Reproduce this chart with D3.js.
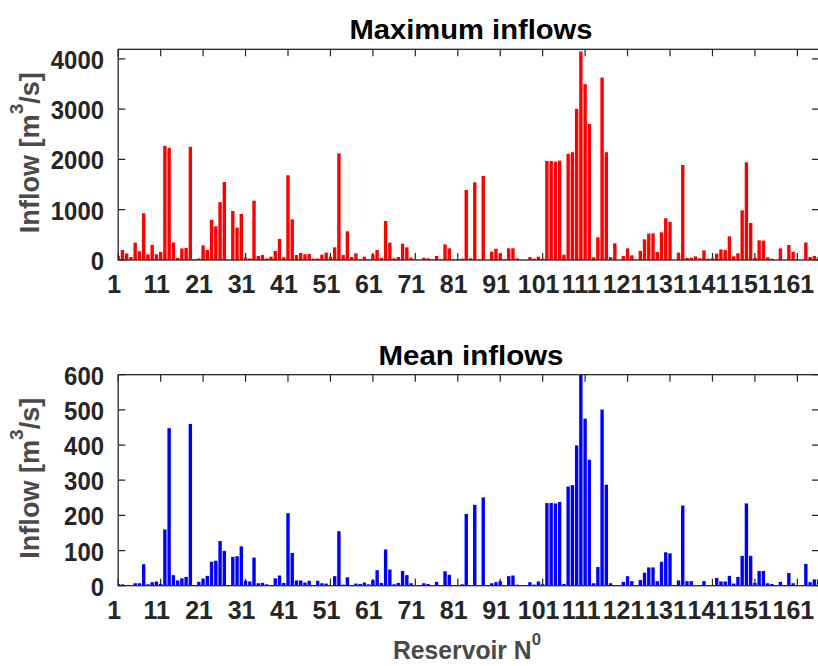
<!DOCTYPE html>
<html>
<head>
<meta charset="utf-8">
<script src="https://cdn.jsdelivr.net/npm/d3@7/dist/d3.min.js"></script>
<style>
  body { margin: 0; background: #fff; }
  svg { display: block; font-family: "Liberation Sans", Arial, sans-serif; font-weight: bold; }
</style>
</head>
<body>
<script>
// reservoir numbers and tick labels
var reservoirs = d3.range(1, 167);
var xTicks = [1, 11, 21, 31, 41, 51, 61, 71, 81, 91, 101, 111, 121, 131, 141, 151, 161];

// maximum inflows [m3/s]
var maxInflow = [80, 200, 130, 60, 345, 172, 930, 113, 300, 113,
    160, 2270, 2230, 350, 40, 230, 240, 2250, 15, 30,
    290, 200, 800, 670, 1150, 1550, 5, 975, 645, 915,
    50, 30, 1180, 80, 100, 30, 66, 180, 420, 53,
    1685, 810, 100, 140, 113, 120, 27, 30, 106, 146,
    66, 252, 2120, 100, 570, 60, 133, 13, 66, 13,
    113, 200, 40, 775, 345, 33, 60, 325, 252, 46,
    13, 0, 46, 33, 13, 80, 13, 310, 232, 13,
    13, 27, 1393, 33, 1545, 13, 1670, 0, 166, 225,
    133, 13, 232, 232, 33, 0, 5, 60, 27, 66,
    27, 1970, 1970, 1957, 1977, 106, 2110, 2143, 3005, 4146,
    3496, 2706, 53, 451, 3628, 2143, 60, 332, 0, 80,
    232, 93, 0, 180, 411, 524, 530, 160, 550, 830,
    756, 0, 146, 1890, 40, 46, 73, 33, 192, 27,
    33, 126, 212, 200, 471, 73, 133, 988, 1943, 736,
    40, 391, 385, 53, 27, 0, 232, 0, 298, 160,
    10, 0, 350, 60, 80, 60];

// mean inflows [m3/s]
var meanInflow = [5, 4, 2, 0, 7, 7, 61, 4, 10, 12,
    5, 160, 448, 30, 15, 21, 25, 460, 0, 11,
    20, 28, 68, 71, 127, 99, 0, 82, 84, 112,
    14, 12, 80, 7, 8, 4, 2, 21, 29, 8,
    206, 93, 15, 15, 9, 14, 0, 14, 7, 6,
    0, 27, 155, 3, 24, 2, 6, 5, 9, 4,
    16, 44, 8, 103, 46, 4, 8, 42, 30, 7,
    0, 0, 7, 5, 0, 11, 0, 41, 31, 0,
    0, 4, 204, 0, 230, 0, 251, 0, 7, 10,
    13, 0, 27, 29, 3, 0, 0, 10, 3, 12,
    4, 235, 235, 234, 238, 5, 282, 286, 399, 600,
    475, 358, 7, 53, 501, 287, 7, 2, 0, 11,
    27, 13, 0, 16, 37, 52, 52, 13, 68, 95,
    92, 0, 15, 228, 13, 13, 0, 0, 13, 0,
    2, 22, 12, 12, 28, 6, 25, 85, 234, 85,
    8, 42, 42, 7, 5, 0, 11, 0, 36, 7,
    0, 0, 62, 10, 18, 18];

var maxTicks = [0, 1000, 2000, 3000, 4000];
var meanTicks = [0, 100, 200, 300, 400, 500, 600];

var axisColor = "#262626";

var svg = d3.select("body").append("svg")
    .attr("width", 818)
    .attr("height", 666);

var x = d3.scaleLinear().domain([1, 166.1]).range([118.2, 819]);
var barW = 0.8 * (x(2) - x(1));

function panel(opt) {
    var y = d3.scaleLinear().domain(opt.domain).range([opt.bottom, opt.top]);
    var left = x.range()[0], right = x.range()[1];
    var g = svg.append("g");

    g.append("clipPath").attr("id", opt.id)
        .append("rect")
        .attr("x", left).attr("y", opt.top)
        .attr("width", right - left).attr("height", opt.bottom - opt.top);

    // inward ticks
    var tl = 7;
    g.selectAll(".xt").data(xTicks).enter().append("path")
        .attr("d", function (d) {
            return "M" + x(d) + "," + opt.bottom + "v" + (-tl) +
                "M" + x(d) + "," + opt.top + "v" + tl;
        })
        .attr("stroke", axisColor).attr("stroke-width", 1.2);
    g.selectAll(".yt").data(opt.ticks).enter().append("path")
        .attr("d", function (d) {
            return "M" + left + "," + y(d) + "h" + tl +
                "M" + right + "," + y(d) + "h" + (-tl);
        })
        .attr("stroke", axisColor).attr("stroke-width", 1.2);

    g.append("g").attr("clip-path", "url(#" + opt.id + ")")
        .selectAll("rect").data(opt.values).enter().append("rect")
        .attr("x", function (d, i) { return x(reservoirs[i]) - barW / 2; })
        .attr("width", barW)
        .attr("y", function (d) { return y(d); })
        .attr("height", function (d) { return opt.bottom - y(d); })
        .attr("fill", opt.color);

    g.append("rect")
        .attr("x", left).attr("y", opt.top)
        .attr("width", right - left).attr("height", opt.bottom - opt.top)
        .attr("fill", "none").attr("stroke", axisColor).attr("stroke-width", 1.3);

    // tick labels
    g.selectAll(".yl").data(opt.ticks).enter().append("text")
        .attr("x", 104).attr("y", function (d) { return y(d) + 10; })
        .attr("text-anchor", "end")
        .attr("font-size", 25).attr("fill", axisColor)
        .attr("textLength", function (d) { return String(d).length * 13.3; })
        .attr("lengthAdjust", "spacingAndGlyphs")
        .text(function (d) { return d; });
    g.selectAll(".xl").data(xTicks).enter().append("text")
        .attr("x", function (d) { return x(d) - 4; })
        .attr("y", opt.bottom + 33)
        .attr("text-anchor", "middle")
        .attr("font-size", 25).attr("fill", axisColor)
        .text(function (d) { return d; });

    // title
    g.append("text")
        .attr("x", 471).attr("y", opt.top - 10)
        .attr("text-anchor", "middle")
        .attr("font-size", 28).attr("fill", "#000")
        .attr("textLength", opt.titleLen).attr("lengthAdjust", "spacingAndGlyphs")
        .text(opt.title);

    // y label
    var yl = g.append("text")
        .attr("transform", "translate(39," + ((opt.top + opt.bottom) / 2 - 2) + ") rotate(-90)")
        .attr("text-anchor", "middle")
        .attr("font-size", 27).attr("fill", "#4a4a4a")
        .attr("textLength", 161).attr("lengthAdjust", "spacingAndGlyphs");
    yl.append("tspan").text("Inflow [m");
    yl.append("tspan").attr("dy", -16).attr("font-size", 19).text("3");
    yl.append("tspan").attr("dy", 16).text("/s]");
}

panel({ id: "c1", values: maxInflow, domain: [0, 4190], top: 49.3, bottom: 260,
    ticks: maxTicks, color: "#ff0000", title: "Maximum inflows", titleLen: 243 });
panel({ id: "c2", values: meanInflow, domain: [0, 600], top: 374.7, bottom: 585.7,
    ticks: meanTicks, color: "#0000ff", title: "Mean inflows", titleLen: 185 });

// x label
var xl = svg.append("text")
    .attr("x", 467).attr("y", 659)
    .attr("text-anchor", "middle")
    .attr("font-size", 25).attr("fill", "#4a4a4a")
    .attr("textLength", 148).attr("lengthAdjust", "spacingAndGlyphs");
xl.append("tspan").text("Reservoir N");
xl.append("tspan").attr("dy", -14).attr("font-size", 17).text("0");
</script>
</body>
</html>
